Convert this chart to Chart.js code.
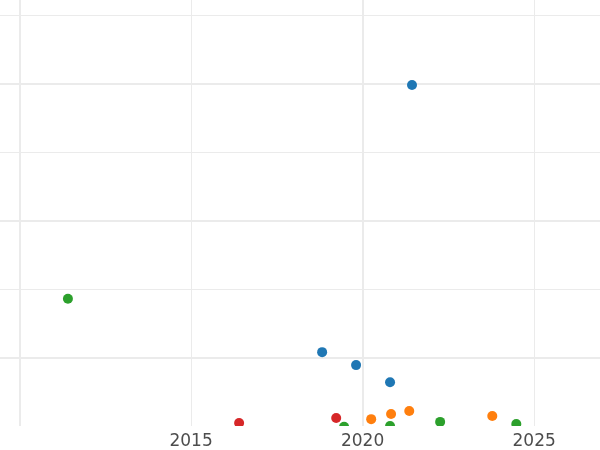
<!DOCTYPE html>
<html>
<head>
<meta charset="utf-8">
<script src="https://cdn.jsdelivr.net/npm/chart.js@4"></script>
<style>
html,body{margin:0;padding:0;background:#fff;}
#wrap{width:600px;height:450px;}
</style>
</head>
<body>
<div id="wrap"><canvas id="c" width="600" height="450"></canvas></div>
<script>
// Data (x = year, y = value in gridline units of 10)
const blueX = [2018.82, 2019.81, 2020.80, 2021.44];
const blueY = [10.8, 8.9, 6.4, 49.85];
const orangeX = [2020.25, 2020.83, 2021.36, 2023.78];
const orangeY = [1.0, 1.75, 2.2, 1.46];
const greenX = [2011.41, 2019.46, 2020.80, 2022.26, 2024.48];
const greenY = [18.6, -0.1, 0.0, 0.6, 0.3];
const redX = [2016.40, 2019.23];
const redY = [0.44, 1.17];

const xTicks = [2010, 2015, 2020, 2025];
const xTickLabels = ['', '2015', '2020', '2025'];
const yTicks = [10, 20, 30, 40, 50, 60];

function pts(xs, ys){ return xs.map((x,i)=>({x:x, y:ys[i]})); }
function ds(xs, ys, color){
  return {data: pts(xs, ys), backgroundColor: color, borderColor: color,
          pointRadius: 5, pointHoverRadius: 5, borderWidth: 0, showLine: false, clip: 0};
}
function zeroPad(s){ s.paddingLeft = 0; s.paddingRight = 0; s.paddingTop = 0; s.paddingBottom = 0; }

new Chart(document.getElementById('c'), {
  type: 'scatter',
  data: {
    datasets: [
      ds(blueX, blueY, '#1f77b4'),
      ds(orangeX, orangeY, '#ff7f0e'),
      ds(greenX, greenY, '#2ca02c'),
      ds(redX, redY, '#d62728')
    ]
  },
  options: {
    responsive: false,
    animation: false,
    layout: {padding: 0, autoPadding: false},
    plugins: {legend: {display: false}, tooltip: {enabled: false}},
    scales: {
      x: {
        type: 'linear',
        min: 2009.43,
        max: 2026.92,
        afterBuildTicks: (s) => { s.ticks = xTicks.map(v => ({value: v})); },
        afterFit: (s) => { zeroPad(s); s.height = 24; },
        border: {display: false},
        grid: {
          drawTicks: false,
          color: '#ebebeb',
          lineWidth: (ctx) => (ctx.tick && (ctx.tick.value === 2010 || ctx.tick.value === 2020)) ? 2 : 1
        },
        ticks: {
          padding: 5,
          maxRotation: 0,
          autoSkip: false,
          color: '#4d4d4d',
          font: {family: 'DejaVu Sans', size: 17},
          callback: (v) => { const i = xTicks.indexOf(v); return i >= 0 ? xTickLabels[i] : ''; }
        }
      },
      y: {
        type: 'linear',
        min: 0,
        max: 62.28,
        afterBuildTicks: (s) => { s.ticks = yTicks.map(v => ({value: v})); },
        afterFit: (s) => { zeroPad(s); s.width = 0; },
        border: {display: false},
        grid: {
          drawTicks: false,
          color: '#ebebeb',
          lineWidth: (ctx) => (ctx.tick && (ctx.tick.value === 10 || ctx.tick.value === 30 || ctx.tick.value === 50)) ? 2 : 1
        },
        ticks: {display: false}
      }
    }
  }
});
</script>
</body>
</html>
